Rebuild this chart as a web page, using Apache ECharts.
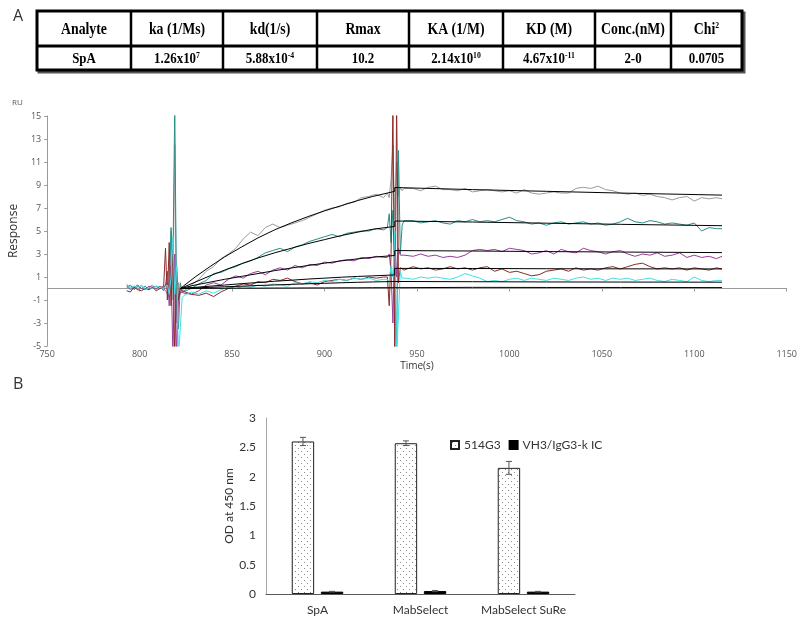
<!DOCTYPE html>
<html>
<head>
<meta charset="utf-8">
<script src="https://cdn.jsdelivr.net/npm/echarts@6/dist/echarts.min.js"></script>
<style>html,body{margin:0;padding:0;background:#fff}#c{width:800px;height:618px}</style>
</head>
<body>
<div id="c"></div>
<script>
// ---------- Table (panel A) ----------
const tableHeaders = ['Analyte', 'ka (1/Ms)', 'kd(1/s)', 'Rmax', 'KA (1/M)', 'KD (M)', 'Conc.(nM)', 'Chi^2'];
const tableValues = ['SpA', '1.26x10^7', '5.88x10^-4', '10.2', '2.14x10^10', '4.67x10^-11', '2-0', '0.0705'];

// ---------- Sensorgram (panel A) ----------
const lineTimes = [
  793, 795, 797, 799, 801, 803, 805, 807, 809, 811, 813,
  814, 815, 816, 817, 818, 819, 820, 821, 822, 823,
  824, 828, 832, 836, 840, 844, 848, 852, 856, 860, 864, 868, 872, 876, 880, 884, 888, 892, 896, 900, 904, 908, 912, 916, 920, 924, 928, 932,
  934, 935, 936, 937, 938, 939, 940, 941, 942, 943,
  944, 948, 952, 956, 960, 964, 968, 972, 976, 980, 984, 988, 992, 996, 1000, 1004, 1008, 1012, 1016, 1020, 1024, 1028, 1032, 1036, 1040, 1044, 1048, 1052, 1056, 1060, 1064, 1068, 1072, 1076, 1080, 1084, 1088, 1092, 1096, 1100, 1104, 1108, 1112, 1115
];
const grayRU = [
  0.3, 0.1, 0.2, -0.1, 0.2, 0.0, 0.1, 0.3, -0.1, 0.2, 0.1,
  0.2, -0.5, 1.0, 5.0, -1.0, 12.5, -3.0, 0.5, -0.5, 0.0,
  -0.2, 0.3, 0.8, 1.5, 1.9, 2.6, 3.0, 3.5, 4.3, 4.9, 4.6, 5.3, 5.6, 5.3, 5.5, 5.7, 5.9, 6.2, 6.5, 6.8, 7.0, 7.1, 7.4, 7.5, 7.9, 8.0, 8.2, 7.9,
  8.3, 7.9, 9.5, 12.5, 6.0, 11.0, 8.0, 8.8, 8.5, 8.7,
  8.6, 8.7, 8.5, 8.8, 8.9, 8.6, 8.6, 8.5, 8.7, 8.4, 8.5, 8.6, 8.5, 8.4, 8.5, 8.3, 8.6, 8.3, 8.2, 8.3, 8.4, 8.3, 8.3, 8.7, 8.8, 8.7, 8.9, 8.6, 8.5, 8.3, 8.2, 8.3, 8.1, 8.2, 8.0, 7.9, 7.7, 7.9, 8.0, 7.6, 7.9, 7.8, 7.9, 7.8
];
const tealRU = [
  0.1, 0.3, -0.1, 0.2, 0.0, 0.2, -0.1, 0.1, 0.2, 0.0, 0.1,
  0.1, 0.5, -0.8, 5.3, 2.0, 16.0, -2.0, -3.5, 0.5, -0.3,
  -0.3, 0.0, 0.4, 0.7, 1.3, 1.4, 1.7, 1.9, 2.2, 2.4, 2.7, 3.1, 3.3, 3.5, 3.2, 3.6, 3.8, 4.1, 4.3, 4.5, 4.7, 4.5, 4.8, 4.9, 5.0, 5.0, 5.2, 5.1,
  5.3, 6.5, 4.0, 6.8, 1.0, -6.0, 12.0, 3.0, 5.5, 5.9,
  5.8, 5.9, 5.7, 5.8, 5.9, 5.7, 5.6, 5.9, 5.8, 6.0, 5.8, 5.9, 5.8, 6.0, 6.2, 5.9, 5.8, 5.6, 5.7, 5.5, 5.7, 5.8, 5.6, 5.7, 5.8, 5.6, 5.7, 5.5, 5.6, 5.8, 6.1, 5.8, 5.7, 5.9, 5.8, 5.6, 5.7, 5.6, 5.5, 5.7, 5.0, 5.3, 5.2, 5.2
];
const purpleRU = [
  0.2, -0.1, 0.1, 0.3, 0.0, -0.1, 0.2, 0.1, 0.0, 0.2, -0.2,
  0.3, 1.5, -1.5, 2.0, -6.0, 3.0, -6.0, -1.0, -0.3, -0.4,
  -0.4, -0.5, -0.2, 0.3, 0.5, 0.3, 0.8, 1.1, 0.9, 1.3, 1.5, 1.2, 1.6, 1.8, 1.6, 2.0, 1.8, 2.1, 2.0, 2.3, 2.2, 2.4, 2.5, 2.4, 2.7, 2.6, 2.8, 2.7,
  2.7, 3.0, 1.5, -3.0, 4.5, 1.0, 3.5, 2.9, 3.0, 2.9,
  2.9, 2.8, 3.0, 2.8, 2.9, 2.7, 2.8, 2.7, 2.9, 3.3, 3.4, 3.3, 3.4, 3.2, 3.5, 3.4, 3.3, 3.0, 3.1, 3.3, 3.0, 3.4, 3.2, 3.1, 3.5, 3.3, 3.2, 3.0, 3.2, 3.3, 3.0, 2.8, 3.0, 2.9, 3.1, 2.8, 2.9, 3.1, 2.7, 2.9, 2.7, 2.8, 2.6, 2.8
];
const brownRU = [
  -0.2, -0.3, 0.1, -0.1, -0.2, 0.0, -0.1, 0.1, -0.2, 0.0, 0.2,
  3.5, -1.0, 4.0, -1.5, 3.8, -6.0, 2.0, -1.0, 0.0, -0.2,
  -0.2, -0.5, -0.6, -0.4, -0.7, -0.3, 0.0, 0.2, 0.4, 0.3, 0.6, 0.5, 0.8, 0.7, 0.9, 0.6, 0.4, 0.5, 0.3, 0.6, 0.7, 0.8, 0.7, 0.9, 0.8, 1.0, 0.9, 1.0,
  1.0, -1.5, 3.0, 16.0, -6.0, 16.0, 0.5, 1.8, 1.7, 1.6,
  1.6, 1.9, 1.7, 1.8, 1.6, 1.7, 1.9, 1.7, 1.8, 1.6, 1.8, 1.9, 1.5, 1.7, 1.4, 1.5, 1.3, 1.1, 1.2, 1.5, 1.6, 1.7, 1.5, 1.8, 1.6, 1.7, 1.6, 1.8, 1.9, 1.7, 1.9, 2.1, 2.2, 1.9, 1.7, 1.8, 1.7, 1.8, 1.6, 1.8, 1.7, 1.6, 1.8, 1.7
];
const cyanRU = [
  0.4, 0.0, 0.2, 0.1, 0.3, -0.1, 0.1, 0.0, 0.2, 0.1, 0.0,
  0.0, 0.3, -0.5, 1.0, 4.5, -0.5, 2.0, -6.0, -6.0, -0.8,
  -0.6, -0.3, -0.5, -0.2, -0.4, -0.1, 0.1, 0.0, 0.2, 0.1, 0.3, 0.2, 0.4, 0.3, 0.2, 0.5, 0.4, 0.6, 0.5, 0.7, 0.6, 0.8, 0.7, 0.9, 0.8, 0.9, 0.7, 0.8,
  0.8, 0.5, 2.0, 1.0, 5.0, -6.0, -6.0, 1.5, 0.9, 1.0,
  0.9, 0.8, 1.0, 0.9, 1.0, 0.9, 0.8, 1.0, 1.3, 1.1, 0.9, 0.6, 0.7, 0.6, 0.8, 0.9, 0.7, 0.9, 0.8, 0.7, 0.9, 0.8, 0.7, 0.9, 1.0, 0.8, 0.9, 0.7, 0.9, 0.8, 0.9, 0.7, 0.8, 0.9, 0.7, 0.6, 0.8, 0.7, 0.6, 1.0, 0.7, 0.6, 0.7, 0.7
];
const fitTimes = [822, 830, 838, 846, 855, 864, 873, 882, 891, 900, 909, 918, 926, 938, 938, 980, 1020, 1060, 1115];
const grayFit   = [0, 1.0, 1.9, 2.75, 3.6, 4.4, 5.1, 5.7, 6.25, 6.75, 7.2, 7.65, 8.0, 8.45, 8.78, 8.6, 8.45, 8.3, 8.12];
const tealFit   = [0, 0.55, 1.1, 1.6, 2.15, 2.65, 3.1, 3.5, 3.9, 4.25, 4.6, 4.9, 5.15, 5.4, 5.87, 5.78, 5.68, 5.58, 5.46];
const purpleFit = [0, 0.3, 0.55, 0.8, 1.05, 1.3, 1.55, 1.78, 2.0, 2.2, 2.4, 2.58, 2.72, 2.87, 3.3, 3.26, 3.21, 3.17, 3.12];
const brownFit  = [0, 0.1, 0.2, 0.3, 0.42, 0.52, 0.63, 0.72, 0.82, 0.9, 0.98, 1.05, 1.1, 1.18, 1.75, 1.74, 1.72, 1.71, 1.7];
const cyanFit   = [0, 0.05, 0.1, 0.15, 0.2, 0.26, 0.31, 0.36, 0.41, 0.45, 0.5, 0.54, 0.57, 0.61, 0.6, 0.59, 0.57, 0.56, 0.55];
const zeroFit   = [0, 0.01, 0.02, 0.02, 0.03, 0.03, 0.04, 0.04, 0.05, 0.05, 0.06, 0.06, 0.07, 0.07, 0.1, 0.1, 0.09, 0.09, 0.08];

// ---------- ELISA bars (panel B) ----------
const barCategories = ['SpA', 'MabSelect', 'MabSelect SuRe'];
const seriesNames = ['514G3', 'VH3/IgG3-k IC'];
const od514 = [2.60, 2.57, 2.15];
const err514 = [0.07, 0.04, 0.11];
const odIC = [0.04, 0.05, 0.04];
const errIC = [0.005, 0.01, 0.005];

// ---------- build ----------
const zip = (xs, ys) => xs.map((x, i) => [x, ys[i]]);

// dotted pattern for the 514G3 bars
const pat = document.createElement('canvas');
pat.width = 6; pat.height = 6;
const pc = pat.getContext('2d');
pc.fillStyle = '#ffffff'; pc.fillRect(0, 0, 6, 6);
pc.fillStyle = '#8a8a8a'; pc.fillRect(1, 1, 1, 1); pc.fillRect(4, 4, 1, 1);

const colX = [37, 131, 223, 317, 409, 503, 595, 671, 742];
const rowY = [11, 46, 70];
function richText(s) { return s.replace(/\^(.+)$/, '{sup|$1}'); }
const graphics = [];
graphics.push({ type: 'text', x: 13, y: 8, style: { text: 'A', fontSize: 16, fontFamily: 'Open Sans', fill: '#333' } });
graphics.push({ type: 'text', x: 13, y: 376, style: { text: 'B', fontSize: 16, fontFamily: 'Open Sans', fill: '#333' } });
graphics.push({ type: 'text', x: 12, y: 99, style: { text: 'RU', fontSize: 8, fontFamily: 'Open Sans', fill: '#555' } });
graphics.push({ type: 'rect', shape: { x: colX[0] + 2, y: rowY[0] + 2, width: colX[8] - colX[0], height: rowY[2] - rowY[0] }, style: { fill: 'none', stroke: '#555', lineWidth: 3 } });
graphics.push({ type: 'rect', shape: { x: colX[0], y: rowY[0], width: colX[8] - colX[0], height: rowY[2] - rowY[0] }, style: { fill: '#fff', stroke: '#000', lineWidth: 3 } });
graphics.push({ type: 'line', shape: { x1: colX[0], y1: rowY[1], x2: colX[8], y2: rowY[1] }, style: { stroke: '#000', lineWidth: 3 } });
for (let i = 1; i < 8; i++) {
  graphics.push({ type: 'line', shape: { x1: colX[i], y1: rowY[0], x2: colX[i], y2: rowY[2] }, style: { stroke: '#000', lineWidth: 2.5 } });
}
for (let i = 0; i < 8; i++) {
  const cx = (colX[i] + colX[i + 1]) / 2;
  [[tableHeaders[i], (rowY[0] + rowY[1]) / 2 + 1, 16], [tableValues[i], (rowY[1] + rowY[2]) / 2 + 1, 15]].forEach(([t, cy, fs]) => {
    graphics.push({
      type: 'text', x: cx, y: cy, scaleX: 0.86, z: 10,
      style: {
        text: richText(t), x: 0, y: 0, align: 'center', verticalAlign: 'middle',
        fontFamily: 'Liberation Serif', fontWeight: 'bold', fontSize: fs, fill: '#000',
        rich: { sup: { fontFamily: 'Liberation Serif', fontWeight: 'bold', fontSize: 9, verticalAlign: 'top', lineHeight: 12, fill: '#000' } }
      }
    });
  });
}

const lineCfg = (name, data, color, w) => ({
  name, type: 'line', xAxisIndex: 0, yAxisIndex: 0, data, showSymbol: false, symbol: 'none',
  lineStyle: { color, width: w }, clip: true, silent: true, z: 2
});
const fitCfg = (data) => ({
  type: 'line', xAxisIndex: 0, yAxisIndex: 0, data, showSymbol: false, symbol: 'none',
  lineStyle: { color: '#000', width: 1 }, clip: true, silent: true, z: 3
});

const errRender = (sign) => function (params, api) {
  const cat = api.value(0), v = api.value(1), e = api.value(2);
  const band = api.size([1, 0])[0];
  const x = api.coord([cat, v])[0] + sign * band * 0.1413;
  const yh = api.coord([cat, v + e])[1];
  const yl = api.coord([cat, v - e])[1];
  const st = { stroke: '#555', lineWidth: 1 };
  return { type: 'group', children: [
    { type: 'line', shape: { x1: x, y1: yh, x2: x, y2: yl }, style: st },
    { type: 'line', shape: { x1: x - 3, y1: yh, x2: x + 3, y2: yh }, style: st },
    { type: 'line', shape: { x1: x - 3, y1: yl, x2: x + 3, y2: yl }, style: st }
  ] };
};

const chart = echarts.init(document.getElementById('c'), null, { renderer: 'canvas' });
chart.setOption({
  animation: false,
  backgroundColor: '#fff',
  graphic: graphics,
  grid: [
    { left: 34, right: 11, top: 116, height: 230 },
    { left: 266, width: 309, top: 418, height: 176 }
  ],
  xAxis: [
    { type: 'value', gridIndex: 0, min: 750, max: 1150, interval: 50,
      name: 'Time(s)', nameLocation: 'middle', nameGap: 15,
      nameTextStyle: { fontFamily: 'Open Sans', fontSize: 10, color: '#333' },
      axisLine: { lineStyle: { color: '#9a9a9a' } }, axisTick: { length: 3, lineStyle: { color: '#9a9a9a' } },
      axisLabel: { fontFamily: 'Open Sans', fontSize: 9, color: '#555', margin: 4, formatter: v => String(v) }, splitLine: { show: false } },
    { type: 'category', gridIndex: 1, data: barCategories,
      axisLine: { lineStyle: { color: '#595959' } }, axisTick: { show: false },
      axisLabel: { fontFamily: 'Lato', fontSize: 12, color: '#333', margin: 10, interval: 0 } }
  ],
  yAxis: [
    { type: 'value', gridIndex: 0, min: -5, max: 15, interval: 2,
      name: 'Response', nameLocation: 'middle', nameGap: 20,
      nameTextStyle: { fontFamily: 'Open Sans', fontSize: 12, color: '#333' },
      axisLine: { show: true, lineStyle: { color: '#9a9a9a' } }, axisTick: { show: true, length: 3, lineStyle: { color: '#9a9a9a' } },
      axisLabel: { fontFamily: 'Open Sans', fontSize: 9, color: '#555', margin: 6 }, splitLine: { show: false } },
    { type: 'value', gridIndex: 1, min: 0, max: 3, interval: 0.5,
      name: 'OD at 450 nm', nameLocation: 'middle', nameGap: 30,
      nameTextStyle: { fontFamily: 'Lato', fontSize: 12, color: '#333' },
      axisLine: { show: true, lineStyle: { color: '#a6a6a6' } }, axisTick: { show: false },
      axisLabel: { fontFamily: 'Lato', fontSize: 12, color: '#333', margin: 10 }, splitLine: { show: false } }
  ],
  legend: {
    data: seriesNames, left: 445, top: 434, itemWidth: 8, itemHeight: 8, itemGap: 8,
    textStyle: { fontFamily: 'Lato', fontSize: 12, color: '#333' }, icon: 'rect'
  },
  series: [
    lineCfg('gray', zip(lineTimes, grayRU), '#9c9c9c', 1),
    lineCfg('teal', zip(lineTimes, tealRU), '#2a8f86', 1),
    lineCfg('purple', zip(lineTimes, purpleRU), '#9a3b9e', 1),
    lineCfg('brown', zip(lineTimes, brownRU), '#8b2a2a', 1),
    lineCfg('cyan', zip(lineTimes, cyanRU), '#3fe0e6', 1),
    fitCfg(zip(fitTimes, grayFit)),
    fitCfg(zip(fitTimes, tealFit)),
    fitCfg(zip(fitTimes, purpleFit)),
    fitCfg(zip(fitTimes, brownFit)),
    fitCfg(zip(fitTimes, cyanFit)),
    fitCfg(zip(fitTimes, zeroFit)),
    { name: seriesNames[0], type: 'bar', xAxisIndex: 1, yAxisIndex: 1, data: od514,
      barCategoryGap: '50%', barGap: '30%',
      itemStyle: { color: { image: pat, repeat: 'repeat' }, borderColor: '#222', borderWidth: 1 } },
    { name: seriesNames[1], type: 'bar', xAxisIndex: 1, yAxisIndex: 1, data: odIC,
      barCategoryGap: '50%', barGap: '30%',
      itemStyle: { color: '#000', borderColor: '#000', borderWidth: 1 } },
    { type: 'custom', xAxisIndex: 1, yAxisIndex: 1, renderItem: errRender(-1), z: 5,
      data: od514.map((v, i) => [i, v, err514[i]]), encode: { x: 0, y: 1 } },
    { type: 'custom', xAxisIndex: 1, yAxisIndex: 1, renderItem: errRender(1), z: 5,
      data: odIC.map((v, i) => [i, v, errIC[i]]), encode: { x: 0, y: 1 } }
  ]
});
</script>
</body>
</html>
